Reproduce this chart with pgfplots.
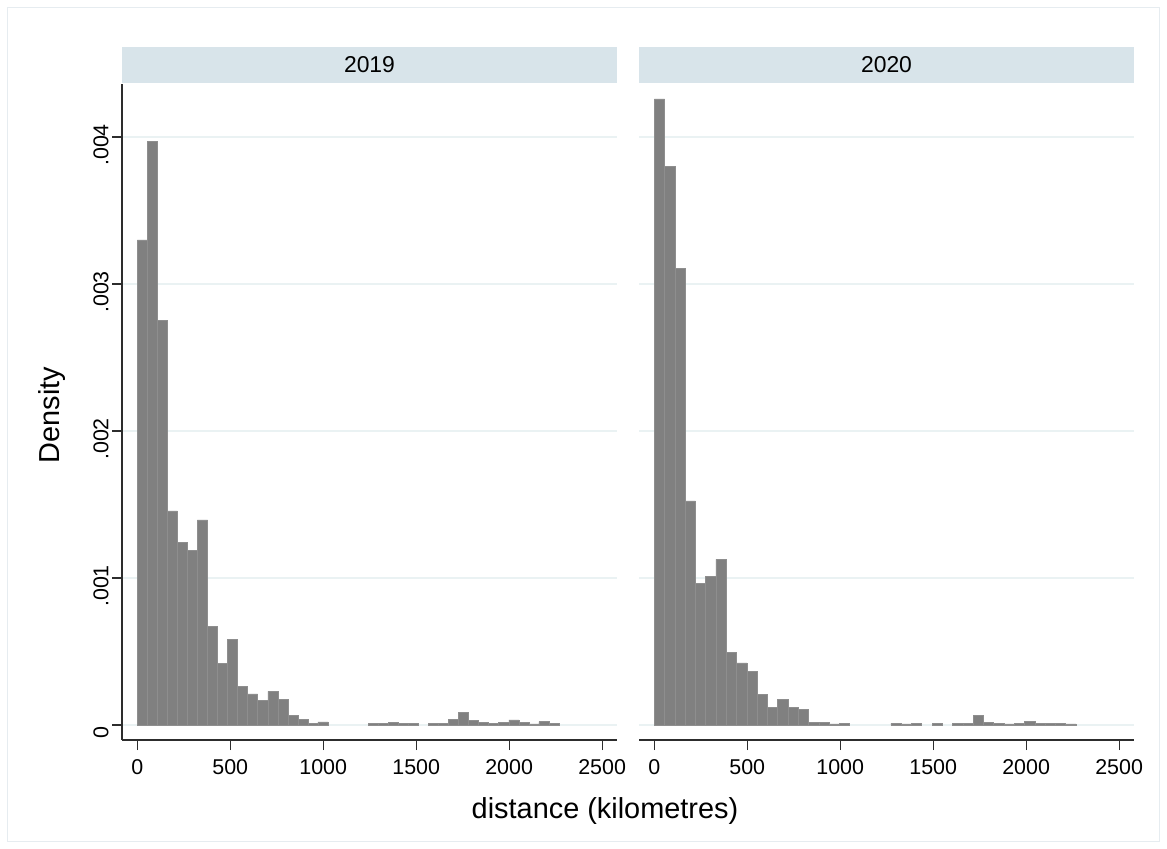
\documentclass[border=0pt]{standalone}
\usepackage{pgfplots}
\pgfplotsset{compat=1.18}
\usepackage{fontspec}
\setmainfont{Liberation Sans}
\definecolor{barfill}{RGB}{128,128,128}
\definecolor{baredge}{RGB}{142,142,142}
\definecolor{gridc}{RGB}{234,242,243}
\definecolor{stripc}{RGB}{216,228,234}
\definecolor{framec}{RGB}{230,236,240}
\definecolor{axisc}{RGB}{45,45,45}
\pgfplotsset{
  hist/.style={
    scale only axis, width=495bp, height=656bp,
    xmin=-82, xmax=2580, ymin=-0.000102, ymax=0.0043605,
    axis x line*=bottom, axis y line*=left,
    axis line style={-, draw=axisc, line width=1.2bp},
    tick align=outside, major tick length=10bp,
    tick style={draw=axisc, line width=1.2bp},
    xtick={0,500,1000,1500,2000,2500},
    xticklabels={0,500,1000,1500,2000,2500},
    xticklabel style={yshift=-6bp},
    ytick={0,0.001,0.002,0.003,0.004},
    scaled y ticks=false,
    ymajorgrids,
    major grid style={draw=gridc, line width=1.5bp},
    tick label style={font=\fontsize{21.5}{21.5}\selectfont},
  },
  bars/.style={ybar, bar width=#1, fill=barfill, draw=baredge, line width=0.5bp},
}
\begin{document}
\begin{tikzpicture}
\useasboundingbox (0,0) rectangle (1167bp,849bp);
\fill[white] (0,0) rectangle (1167bp,849bp);
\draw[framec, line width=1bp] (7.5bp,7.5bp) rectangle (1159.5bp,841.5bp);
% strips
\fill[stripc] (122bp,766bp) rectangle (617bp,802bp);
\fill[stripc] (639bp,766bp) rectangle (1134bp,802bp);
\node[font=\fontsize{23}{23}\selectfont] at (369.5bp,784bp) {2019};
\node[font=\fontsize{23}{23}\selectfont] at (886.5bp,784bp) {2020};
% panel 2019
\begin{axis}[hist, at={(122bp,109bp)}, anchor=south west,
  yticklabels={0,.001,.002,.003,.004},
  yticklabel style={rotate=90, anchor=south, xshift=-8bp}]
\addplot[bars=54] coordinates {
(27,0.00330) (81,0.00397) (135,0.002755) (189,0.001456) (243,0.001240)
(297,0.001190) (351,0.001395) (405,0.000671) (459,0.000417) (513,0.000583)
(567,0.000265) (621,0.000211) (675,0.000166) (729,0.000229) (783,0.000175)
(837,0.000068) (891,0.000040) (945,0.000010) (999,0.000022)
(1269,0.000010) (1323,0.000010) (1377,0.000016) (1431,0.000010) (1485,0.000010)
(1593,0.000010) (1647,0.000011) (1701,0.000036) (1755,0.000084) (1809,0.000034)
(1863,0.000020) (1917,0.000011) (1971,0.000020) (2025,0.000035) (2079,0.000016)
(2133,0.000008) (2187,0.000023) (2241,0.000011)
};
\end{axis}
% panel 2020
\begin{axis}[hist, at={(639bp,109bp)}, anchor=south west,
  yticklabels={}, y axis line style={draw=none}, ytick style={draw=none}]
\addplot[bars=55.32] coordinates {
(27.66,0.00426) (82.98,0.003798) (138.30,0.003104) (193.62,0.001524) (248.94,0.000964)
(304.26,0.001009) (359.58,0.001127) (414.90,0.000494) (470.22,0.000422) (525.54,0.000367)
(580.86,0.000206) (636.18,0.000120) (691.50,0.000175) (746.82,0.000118) (802.14,0.000107)
(857.46,0.000018) (912.78,0.000020) (968.10,0.000008) (1023.42,0.000009)
(1300.02,0.000011) (1355.34,0.000008) (1410.66,0.000011) (1521.30,0.000009)
(1631.94,0.000011) (1687.26,0.000011) (1742.58,0.000066) (1797.90,0.000018)
(1853.22,0.000011) (1908.54,0.000007) (1963.86,0.000010) (2019.18,0.000026)
(2074.50,0.000011) (2129.82,0.000010) (2185.14,0.000013) (2240.46,0.000007)
};
\end{axis}
% axis titles
\node[rotate=90, font=\fontsize{29}{29}\selectfont] at (52bp,434bp) {Density};
\node[font=\fontsize{29}{29}\selectfont] at (605bp,38bp) {distance (kilometres)};
\end{tikzpicture}
\end{document}
